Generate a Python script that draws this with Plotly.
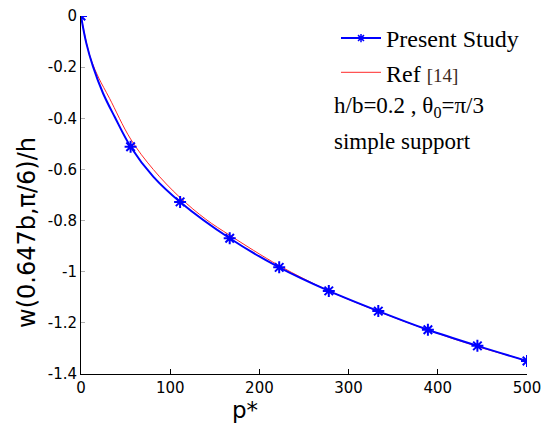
import plotly.graph_objects as go

# Central deflection w/h versus load parameter p*
# Present study: smooth solution curve and the computed (marked) points
present_curve_p = [0, 6, 13.5, 24.7, 37.7, 55.6, 81, 111.1, 166.7, 222.2, 277.8, 333.3, 388.9, 444.4, 500]
present_curve_w = [0, -0.107, -0.198, -0.302, -0.394, -0.511, -0.628, -0.727, -0.869, -0.983,
                   -1.075, -1.154, -1.227, -1.290, -1.349]

present_pts_p = [0, 55.6, 111.1, 166.7, 222.2, 277.8, 333.3, 388.9, 444.4, 500]
present_pts_w = [0, -0.511, -0.727, -0.869, -0.983, -1.075, -1.154, -1.227, -1.290, -1.349]

# Reference solution, Ref [14]
ref_p = [0, 6, 12, 20, 32, 55.6, 81, 111, 140, 167, 222, 278, 333, 389, 444, 500]
ref_w = [0, -0.103, -0.178, -0.243, -0.322, -0.481, -0.60, -0.71, -0.795, -0.858,
         -0.976, -1.075, -1.155, -1.228, -1.292, -1.348]

x_ticks = [0, 100, 200, 300, 400, 500]
y_ticks = [0, -0.2, -0.4, -0.6, -0.8, -1, -1.2, -1.4]
y_ticktext = ["0", "-0.2", "-0.4", "-0.6", "-0.8", "-1", "-1.2", "-1.4"]

BLUE = "#0000ff"
RED = "#ff2a2a"
SERIF = "Liberation Serif, Times New Roman, serif"
SANS = "DejaVu Sans, Arial, sans-serif"

fig = go.Figure()

# reference curve
fig.add_trace(go.Scatter(
    x=ref_p, y=ref_w, mode="lines", line=dict(color=RED, width=1, shape="spline"),
    showlegend=False, hoverinfo="skip"))

# present study: continuous curve
fig.add_trace(go.Scatter(
    x=present_curve_p, y=present_curve_w, mode="lines",
    line=dict(color=BLUE, width=2, shape="spline"),
    showlegend=False, hoverinfo="skip"))

# present study: computed points
fig.add_trace(go.Scatter(
    x=present_pts_p, y=present_pts_w, mode="markers",
    marker=dict(symbol="asterisk-open", size=10, color=BLUE, line=dict(color=BLUE, width=2)),
    showlegend=False))

# legend entries
fig.add_trace(go.Scatter(
    x=[None], y=[None], mode="lines+markers", name="Present Study",
    line=dict(color=BLUE, width=2),
    marker=dict(symbol="asterisk-open", size=7, color=BLUE, line=dict(color=BLUE, width=1.5))))
fig.add_trace(go.Scatter(
    x=[None], y=[None], mode="lines",
    name="Ref <span style='font-size:19px;color:#3b2a1c'>[14]</span>",
    line=dict(color=RED, width=1)))

L, R, T, B = 81, 16, 16, 53
W, H = 543, 427
pw, ph = W - L - R, H - T - B


def px_x(px):
    return (px - L) / pw


def px_y(py):
    return (H - B - py) / ph


fig.update_layout(
    width=W, height=H,
    margin=dict(l=L, r=R, t=T, b=B, autoexpand=False),
    paper_bgcolor="white", plot_bgcolor="white",
    font=dict(family=SANS, size=15, color="black"),
    legend=dict(
        x=px_x(336), y=px_y(16), xanchor="left", yanchor="top",
        font=dict(family=SERIF, size=24, color="black"),
        bgcolor="rgba(0,0,0,0)", itemwidth=40,
    ),
    xaxis=dict(
        range=[0, 500], tickvals=x_ticks, ticks="inside", ticklen=5, tickcolor="black",
        showline=True, linecolor="black", linewidth=1, showgrid=False, zeroline=False,
        tickfont=dict(family=SANS, size=15), automargin=False,
    ),
    yaxis=dict(
        range=[-1.4, 0], tickvals=y_ticks, ticktext=y_ticktext, ticks="inside", ticklen=4,
        tickcolor="#b0b0b0", showline=True, linecolor="black", linewidth=1, showgrid=False,
        zeroline=False, tickfont=dict(family=SANS, size=15), automargin=False,
    ),
    annotations=[
        dict(text="p*", xref="paper", yref="paper", x=px_x(245), y=px_y(410),
             xanchor="center", yanchor="middle", showarrow=False,
             font=dict(family=SANS, size=23)),
        dict(text="w(0.647b,π/6)/h", xref="paper", yref="paper", x=px_x(27), y=px_y(233),
             xanchor="center", yanchor="middle", showarrow=False, textangle=-90,
             font=dict(family=SANS, size=24)),
        dict(text="h/b=0.2 , θ<sub>0</sub>=π/3", xref="paper", yref="paper",
             x=px_x(332), y=px_y(107), xanchor="left", yanchor="middle", showarrow=False,
             font=dict(family=SERIF, size=23)),
        dict(text="simple support", xref="paper", yref="paper",
             x=px_x(332), y=px_y(141), xanchor="left", yanchor="middle", showarrow=False,
             font=dict(family=SERIF, size=23)),
    ],
)

fig.write_html("out.html")
